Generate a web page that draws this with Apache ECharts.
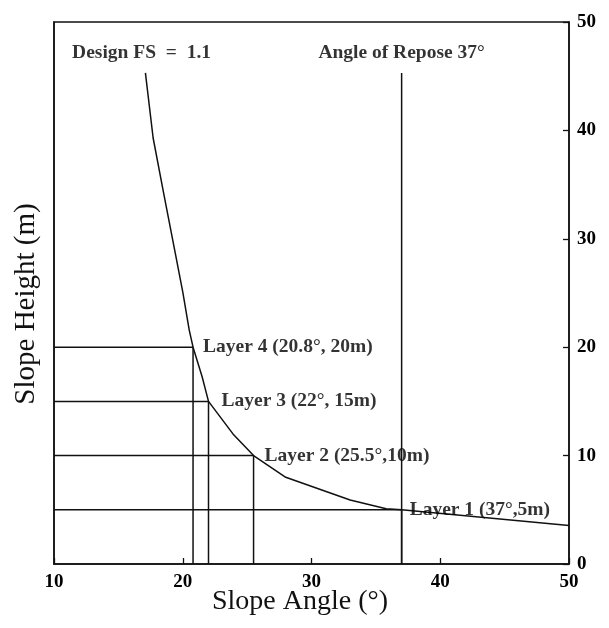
<!DOCTYPE html>
<html>
<head>
<meta charset="utf-8">
<script src="https://cdn.jsdelivr.net/npm/echarts@6/dist/echarts.min.js"></script>
<style>
  html, body { margin: 0; padding: 0; background: #fff; }
  #chart { width: 609px; height: 628px; }
</style>
</head>
<body>
<div id="chart"></div>
<script>
// Design curve for FS = 1.1: slope angle (deg) vs slope height (m)
const curveAngle  = [17.1, 17.7, 18.5, 19.4, 20.0, 20.5, 20.8, 21.5, 22.0, 23.9, 25.5, 28.0, 33.0, 35.8, 37.0, 50.0];
const curveHeight = [45.3, 39.3, 34.3, 28.8, 25.1, 21.6, 20.0, 17.3, 15.0, 12.0, 10.0, 8.0, 5.9, 5.1, 5.0, 3.55];

// Layer design points
const layerNames  = ['Layer 1 (37°,5m)', 'Layer 2 (25.5°,10m)', 'Layer 3 (22°, 15m)', 'Layer 4 (20.8°, 20m)'];
const layerAngle  = [37, 25.5, 22, 20.8];
const layerHeight = [5, 10, 15, 20];
const layerLabelGap = [8, 11, 13, 10];

// Angle of repose line
const reposeAngle = 37;
const reposeTop = 45.3;

// Axis ticks
const xTicks = [10, 20, 30, 40, 50];
const yTicks = [0, 10, 20, 30, 40, 50];

const FONT = '"Liberation Serif", "DejaVu Serif", serif';
const INK = '#111';
const xMin = xTicks[0], xMax = xTicks[xTicks.length - 1];
const yMin = yTicks[0], yMax = yTicks[yTicks.length - 1];

const lineStyle = { color: INK, width: 1.5 };
const series = [];

// main curve
series.push({
  type: 'line',
  data: curveAngle.map((a, i) => [a, curveHeight[i]]),
  showSymbol: false,
  lineStyle: lineStyle,
  silent: true,
  z: 3
});

// guide lines for each layer: horizontal from the left axis, vertical down to zero
layerAngle.forEach((a, i) => {
  series.push({
    type: 'line',
    data: [[xMin, layerHeight[i]], [a, layerHeight[i]], [a, yMin]],
    showSymbol: false,
    lineStyle: lineStyle,
    silent: true,
    z: 2
  });
});

// angle of repose vertical line
series.push({
  type: 'line',
  data: [[reposeAngle, yMin], [reposeAngle, reposeTop]],
  showSymbol: false,
  lineStyle: lineStyle,
  silent: true,
  z: 2
});

const annotText = { fontFamily: FONT, fontSize: 19.5, fontWeight: 'bold', color: '#000' };

// layer labels
layerAngle.forEach((a, i) => {
  series.push({
    type: 'scatter',
    data: [[a, layerHeight[i]]],
    symbolSize: 0,
    silent: true,
    label: Object.assign({
      show: true,
      position: 'right',
      distance: layerLabelGap[i],
      formatter: layerNames[i]
    }, annotText),
    z: 4
  });
});

// heading annotations inside the plot
const headings = [
  { text: 'Design FS  =  1.1', at: [16.8, 47.1] },
  { text: 'Angle of Repose 37°', at: [reposeAngle, 47.1] }
];
headings.forEach(h => {
  series.push({
    type: 'scatter',
    data: [h.at],
    symbolSize: 0,
    silent: true,
    label: Object.assign({
      show: true,
      position: 'inside',
      formatter: h.text
    }, annotText)
  });
});

const chart = echarts.init(document.getElementById('chart'), null, { renderer: 'canvas' });
chart.setOption({
  animation: false,
  backgroundColor: '#fff',
  grid: {
    left: 54, right: 40, top: 22, bottom: 64,
    show: true, borderColor: INK, borderWidth: 1.5, backgroundColor: 'transparent'
  },
  graphic: [
    {
      type: 'text',
      x: 26, y: 304,
      rotation: Math.PI / 2,
      style: {
        text: 'Slope Height (m)',
        fontFamily: FONT, fontSize: 29, fill: INK,
        align: 'center', verticalAlign: 'middle'
      }
    },
    {
      type: 'text',
      x: 300, y: 602,
      style: {
        text: 'Slope Angle (°)',
        fontFamily: FONT, fontSize: 28, fill: INK,
        align: 'center', verticalAlign: 'middle'
      }
    }
  ],
  xAxis: {
    type: 'value',
    min: xMin, max: xMax, interval: 10,
    axisLine: { show: true, lineStyle: { color: INK, width: 1.5 } },
    axisTick: { show: true, inside: true, length: 6, lineStyle: { color: INK, width: 1.3 } },
    axisLabel: { fontFamily: FONT, fontSize: 19, color: '#000', margin: 9, fontWeight: 'bold' },
    splitLine: { show: false }
  },
  yAxis: [
    {
      type: 'value',
      position: 'right',
      min: yMin, max: yMax, interval: 10,
      axisLine: { show: true, lineStyle: { color: INK, width: 1.5 } },
      axisTick: { show: true, inside: true, length: 6, lineStyle: { color: INK, width: 1.3 } },
      axisLabel: { fontFamily: FONT, fontSize: 19, color: '#000', margin: 8, fontWeight: 'bold' },
      splitLine: { show: false }
    },
    {
      type: 'value',
      position: 'left',
      min: yMin, max: yMax, interval: 10,
      axisLine: { show: true, lineStyle: { color: INK, width: 1.5 } },
      axisTick: { show: false },
      axisLabel: { show: false },
      splitLine: { show: false }
    }
  ],
  series: series
});
</script>
</body>
</html>
